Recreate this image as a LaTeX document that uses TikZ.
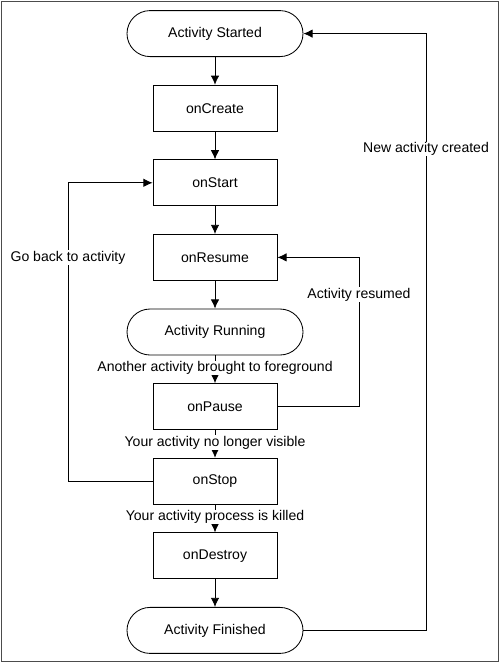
\documentclass[tikz,border=0pt]{standalone}
\usepackage{fontspec}
\setmainfont{Liberation Sans}
\usepackage{tikz}
\usetikzlibrary{positioning,arrows.meta,calc}
\tikzset{
    on grid,
    node distance=1.865cm,
    block/.style = {
        draw,
        shape=rectangle,
        minimum height=1.15cm,
        minimum width=3.1cm,
        line width=0.6pt
    },
    terminal/.style = {
        draw,
        shape=rectangle,
        rounded corners=0.575cm,
        minimum height=1.15cm,
        minimum width=4.4cm,
        line width=0.6pt
    },
    edgelabel/.style = {
        fill=white,
        inner sep=0.5pt,
        font=\fontsize{10}{12}\selectfont
    },
    >={Latex[length=6.5pt,width=6pt]},
}

\begin{document}
\begin{tikzpicture}[font=\fontsize{10}{12}\selectfont, line width=0.6pt]
            \useasboundingbox (0,0) rectangle (12.5,-16.575);
            \draw[gray!60!black, line width=0.8pt] (0.03,-0.03) rectangle (12.47,-16.545);

            \node[terminal] (started) at (5.375,-0.84) {Activity Started};
            \node[block] (create) [below=of started] {onCreate};
            \node[block] (start) [below=of create] {onStart};
            \node[block] (resume) [below=of start] {onResume};
            \node[terminal] (running) [below=of resume] {Activity Running};
            \node[block] (pause) [below=of running] {onPause};
            \node[block] (stop) [below=of pause] {onStop};
            \node[block] (destroy) [below=of stop] {onDestroy};
            \node[terminal] (finished) [below=of destroy] {Activity Finished};

            \coordinate (newloop) at (10.65,0);
            \coordinate (resumeloop) at (8.975,0);
            \coordinate (backloop) at (1.7,0);

            \path[draw, ->] (started) -- (create);
            \path[draw, ->] (create) -- (start);
            \path[draw, ->] (start) -- (resume);
            \path[draw, ->] (resume) -- (running);
            \path[draw, ->] (running) -- node[edgelabel, pos=0.45] {Another activity brought to foreground} (pause);
            \path[draw, ->] (pause) -- node[edgelabel, pos=0.45] {Your activity no longer visible} (stop);
            \path[draw, ->] (stop) -- node[edgelabel, pos=0.45] {Your activity process is killed} (destroy);
            \path[draw, ->] (destroy) -- (finished);

            \path[draw, ->] (finished.east) -- (finished.east -| newloop)
                -- node[edgelabel, pos=0.807] {New activity created} (started.east -| newloop)
                -- (started.east);
            \path[draw, ->] (pause.east) -- (pause.east -| resumeloop)
                -- node[edgelabel, pos=0.75] {Activity resumed} (resume.east -| resumeloop)
                -- (resume.east);
            \path[draw, ->] (stop.west) -- (stop.west -| backloop)
                -- node[edgelabel, pos=0.75] {Go back to activity} (start.west -| backloop)
                -- (start.west);
        \end{tikzpicture}
\end{document}
